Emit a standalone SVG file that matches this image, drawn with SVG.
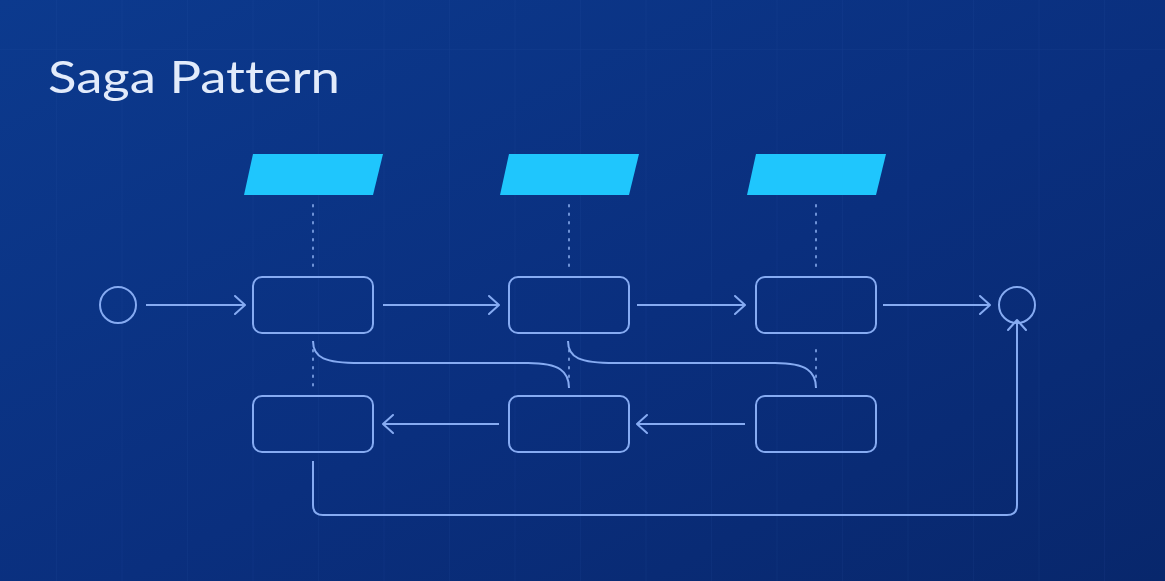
<svg xmlns="http://www.w3.org/2000/svg" width="1165" height="581" viewBox="0 0 1165 581">
  <defs>
    <linearGradient id="bg" x1="0" y1="0" x2="1" y2="1">
      <stop offset="0" stop-color="#0c3a8e"/>
      <stop offset="0.55" stop-color="#0a2f7e"/>
      <stop offset="1" stop-color="#08276c"/>
    </linearGradient>
    <pattern id="grid" x="56" y="49" width="65.5" height="61" patternUnits="userSpaceOnUse">
      <path d="M0,0 V61 M0,0 H65.5" fill="none" stroke="#3a63b8" stroke-width="1.2"/>
    </pattern>
    <marker id="arr" viewBox="0 0 12 20" refX="11" refY="10" markerWidth="12" markerHeight="20" markerUnits="userSpaceOnUse" orient="auto">
      <path d="M1,1 L11,10 L1,19" fill="none" stroke="#86abf2" stroke-width="2" stroke-linecap="round" stroke-linejoin="round"/>
    </marker>
  </defs>
  <style>
    .box { fill: none; stroke: #86abf2; stroke-width: 2; }
    .para { fill: #1fc6fd; }
    .conn { fill: none; stroke: #86abf2; stroke-width: 2; }
    .dot { fill: none; stroke: #6f93d8; stroke-width: 2; stroke-dasharray: 1.5 7; stroke-linecap: round; }
    .title { font-family: "Lato", "Open Sans", sans-serif; font-size: 44px; font-weight: 400; fill: #e2ebfb; font-variant-ligatures: none; }
  </style>
  <rect width="1165" height="581" fill="url(#bg)"/>
  <rect width="1165" height="581" fill="url(#grid)" opacity="0.15"/>

  <text class="title" x="48" y="93" textLength="292" lengthAdjust="spacingAndGlyphs">Saga Pattern</text>

  <g id="dotted">
    <line class="dot" x1="313" y1="205" x2="313" y2="270"/>
    <line class="dot" x1="569" y1="205" x2="569" y2="270"/>
    <line class="dot" x1="816" y1="205" x2="816" y2="270"/>
    <line class="dot" x1="313" y1="350" x2="313" y2="388"/>
    <line class="dot" x1="569" y1="350" x2="569" y2="380"/>
    <line class="dot" x1="816" y1="350" x2="816" y2="380"/>
  </g>

  <g id="services">
    <polygon id="svc1" class="para" points="253,154 383,154 373,195 244,195"/>
    <polygon id="svc2" class="para" points="509,154 639,154 629,195 500,195"/>
    <polygon id="svc3" class="para" points="756,154 886,154 876,195 747,195"/>
  </g>

  <g id="start"><circle cx="118" cy="305" r="18" class="box"/></g>
  <g id="end"><circle cx="1017" cy="305" r="18" class="box"/></g>

  <g id="t1"><rect class="box" x="253" y="277" width="120" height="56" rx="9"/></g>
  <g id="t2"><rect class="box" x="509" y="277" width="120" height="56" rx="9"/></g>
  <g id="t3"><rect class="box" x="756" y="277" width="120" height="56" rx="9"/></g>
  <g id="c1"><rect class="box" x="253" y="396" width="120" height="56" rx="9"/></g>
  <g id="c2"><rect class="box" x="509" y="396" width="120" height="56" rx="9"/></g>
  <g id="c3"><rect class="box" x="756" y="396" width="120" height="56" rx="9"/></g>

  <g id="connectors">
    <line class="conn" x1="146" y1="305" x2="245" y2="305" marker-end="url(#arr)"/>
    <line class="conn" x1="383" y1="305" x2="499" y2="305" marker-end="url(#arr)"/>
    <line class="conn" x1="637" y1="305" x2="745" y2="305" marker-end="url(#arr)"/>
    <line class="conn" x1="883" y1="305" x2="990" y2="305" marker-end="url(#arr)"/>
    <line class="conn" x1="499" y1="424" x2="383" y2="424" marker-end="url(#arr)"/>
    <line class="conn" x1="745" y1="424" x2="637" y2="424" marker-end="url(#arr)"/>
    <path class="conn" d="M313,341 C313,358 325,363 360,363 L528,363 C560,363 569,372 569,388"/>
    <path class="conn" d="M568,341 C568,358 580,363 615,363 L775,363 C807,363 816,372 816,388"/>
    <path class="conn" d="M313,461 V505 Q313,515 323,515 H1007 Q1017,515 1017,505 V320" marker-end="url(#arr)"/>
  </g>
</svg>
